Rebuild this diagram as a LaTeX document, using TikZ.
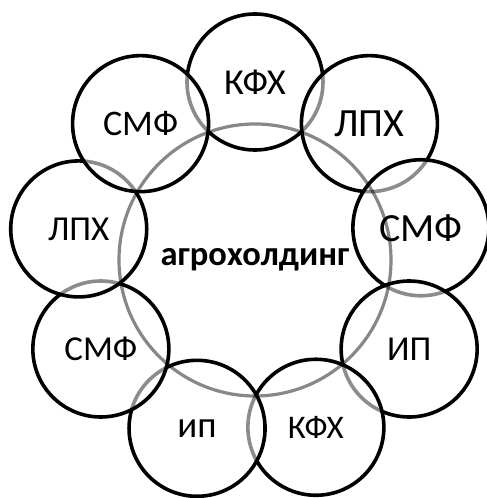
\documentclass[tikz,border=0pt]{standalone}
\usepackage{fontspec}
\setmainfont{Carlito}
\usepackage{tikz}
\tikzset{
  circ/.style={circle, draw=black, line width=3.6pt, minimum size=136pt, inner sep=0pt,
    fill=white, fill opacity=0.55, text opacity=1},
  hub/.style={circle, draw=black!47, line width=3.2pt, minimum size=272pt, inner sep=0pt,
    text=black, font=\bfseries\fontsize{34.5}{40}\selectfont}
}

\begin{document}
\begin{tikzpicture}[x=1pt, y=1pt]
\useasboundingbox (-255,-238) rectangle (232,260);
% outer ring, each circle drawn over the one before
\foreach \a/\d/\s/\t [count=\i] in {90/178/36.5/КФХ, 50/178/40/ЛПХ, 11/169/40/СМФ, -30/178/35/ИП,
    -70/178/33/КФХ, -109/178/37/ип, -150/178/35/СМФ, 170/179/35/ЛПХ, 130/178/36/СМФ}
  \node[circ, font=\fontsize{\s}{\s}\selectfont] (c\i) at (\a:\d) {\t};
% agroholding in the middle
\begin{scope}[blend mode=multiply]
\node[hub] (hub) at (0,0) {агрохолдинг};
\end{scope}
\end{tikzpicture}
\end{document}
